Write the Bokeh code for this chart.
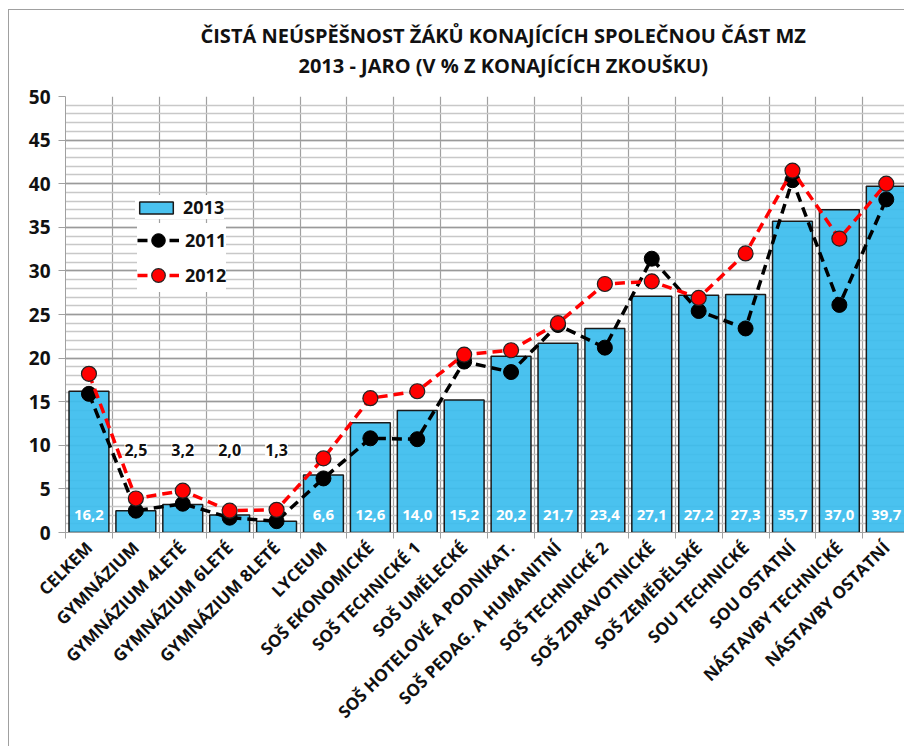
from bokeh.plotting import figure
from bokeh.models import (ColumnDataSource, FixedTicker, SingleIntervalTicker, Legend,
                          LegendItem, Title, LabelSet, Range1d)
from bokeh.embed import file_html
from bokeh.resources import INLINE
from bokeh.core.properties import value

categories = ["CELKEM", "GYMNÁZIUM", "GYMNÁZIUM 4LETÉ", "GYMNÁZIUM 6LETÉ", "GYMNÁZIUM 8LETÉ",
              "LYCEUM", "SOŠ EKONOMICKÉ", "SOŠ TECHNICKÉ 1", "SOŠ UMĚLECKÉ",
              "SOŠ HOTELOVÉ A PODNIKAT.", "SOŠ PEDAG. A HUMANITNÍ", "SOŠ TECHNICKÉ 2",
              "SOŠ ZDRAVOTNICKÉ", "SOŠ ZEMĚDĚLSKÉ", "SOU TECHNICKÉ", "SOU OSTATNÍ",
              "NÁSTAVBY TECHNICKÉ", "NÁSTAVBY OSTATNÍ"]
v2013 = [16.2, 2.5, 3.2, 2.0, 1.3, 6.6, 12.6, 14.0, 15.2, 20.2, 21.7, 23.4, 27.1, 27.2, 27.3, 35.7, 37.0, 39.7]
v2011 = [15.9, 2.5, 3.3, 1.7, 1.3, 6.2, 10.8, 10.7, 19.6, 18.4, 23.8, 21.2, 31.4, 25.4, 23.4, 40.4, 26.1, 38.2]
v2012 = [18.2, 3.9, 4.8, 2.5, 2.6, 8.5, 15.4, 16.2, 20.4, 20.9, 24.0, 28.5, 28.8, 26.9, 32.0, 41.5, 33.7, 40.0]
title_line1 = "ČISTÁ NEÚSPĚŠNOST ŽÁKŮ KONAJÍCÍCH SPOLEČNOU ČÁST MZ"
title_line2 = "2013 - JARO (V % Z KONAJÍCÍCH ZKOUŠKU)"

FONT = "Open Sans"
xs = list(range(len(categories)))
fmt = [f"{v:.1f}".replace(".", ",") for v in v2013]
inside = [v >= 5 for v in v2013]
src = ColumnDataSource(dict(x=xs, y13=v2013, y11=v2011, y12=v2012, lab=fmt))
src_in = ColumnDataSource(dict(x=[x for x, i in zip(xs, inside) if i],
                               y=[0.0 for i in inside if i],
                               lab=[l for l, i in zip(fmt, inside) if i]))
src_out = ColumnDataSource(dict(x=[x for x, i in zip(xs, inside) if not i],
                                y=[9.5 for i in inside if not i],
                                lab=[l for l, i in zip(fmt, inside) if not i]))

p = figure(width=896, height=737, output_backend="svg", toolbar_location=None,
           x_range=Range1d(-0.5, 17.41), y_range=Range1d(0, 50),
           min_border_left=56, min_border_right=0, min_border_top=86, min_border_bottom=215)
p.outline_line_color = None
p.background_fill_color = "white"
p.border_fill_color = "white"
p.styles = {"margin-left": "8px", "margin-top": "9px",
            "border-left": "1px solid #a0a0a0", "border-top": "1px solid #a0a0a0"}

# titles
t2 = Title(text=title_line2, align="left", offset=233, vertical_align="middle",
           text_font=FONT, text_font_size="20px", text_font_style="bold", text_color="#111111",
           standoff=33)
t1 = Title(text=title_line1, align="left", offset=135,
           text_font=FONT, text_font_size="20px", text_font_style="bold", text_color="#111111",
           standoff=-28)
p.add_layout(t2, "above")
p.add_layout(t1, "above")

# grids
p.ygrid.ticker = SingleIntervalTicker(interval=5, num_minor_ticks=5)
p.ygrid.grid_line_color = "#9a9a9a"
p.ygrid.grid_line_width = 1.5
p.ygrid.minor_grid_line_color = "#c8c8c8"
p.ygrid.minor_grid_line_width = 1.5
p.xgrid.ticker = FixedTicker(ticks=[i + 0.5 for i in range(-1, 18)])
p.xgrid.grid_line_color = "#a0a0a0"
p.xgrid.grid_line_width = 1.2

# axes
p.yaxis.ticker = SingleIntervalTicker(interval=5, num_minor_ticks=0)
p.yaxis.axis_line_color = "#a0a0a0"
p.yaxis.major_tick_line_color = "#a0a0a0"
p.yaxis.major_tick_out = 7
p.yaxis.major_tick_in = 0
p.yaxis.minor_tick_line_color = None
p.yaxis.major_label_text_font = FONT
p.yaxis.major_label_text_font_size = "19px"
p.yaxis.major_label_text_font_style = "bold"
p.yaxis.major_label_text_color = "#111111"
p.yaxis.major_label_standoff = 8

p.xaxis.ticker = FixedTicker(ticks=xs, minor_ticks=[i + 0.5 for i in range(-1, 18)])
p.xaxis.major_label_overrides = {i: c for i, c in enumerate(categories)}
p.xaxis.major_label_orientation = 0.785398
p.xaxis.major_tick_out = 0
p.xaxis.major_tick_in = 0
p.xaxis.minor_tick_out = 6
p.xaxis.minor_tick_in = 0
p.xaxis.minor_tick_line_color = "#a0a0a0"
p.xaxis.axis_line_color = "#a0a0a0"
p.xaxis.major_label_text_font = FONT
p.xaxis.major_label_text_font_size = "17px"
p.xaxis.major_label_text_font_style = "bold"
p.xaxis.major_label_text_color = "#111111"
p.xaxis.major_label_standoff = 6

bars = p.vbar(x="x", top="y13", width=0.85, source=src, fill_color="#3cbdee", fill_alpha=0.93,
              line_color="#1a1a1a", line_width=1.5)
l11 = p.line("x", "y11", source=src, line_color="black", line_width=3.5, line_dash="10 6")
m11 = p.scatter("x", "y11", source=src, size=15, fill_color="black", line_color="black")
l12 = p.line("x", "y12", source=src, line_color="#ff0000", line_width=3.5, line_dash="10 6")
m12 = p.scatter("x", "y12", source=src, size=15, fill_color="#ff0000", line_color="#222222",
                line_width=1.2)

p.add_layout(LabelSet(x="x", y="y", text="lab", source=src_in, text_align="center",
                      text_baseline="bottom", y_offset=13, text_color="white",
                      text_font=value(FONT), text_font_size="15px", text_font_style="bold"))
p.add_layout(LabelSet(x="x", y="y", text="lab", source=src_out, text_align="center",
                      text_baseline="middle", text_color="#111111",
                      background_fill_color="white", background_fill_alpha=1.0,
                      text_font=value(FONT), text_font_size="16px", text_font_style="bold"))


def style_legend(lg):
    lg.border_line_color = None
    lg.background_fill_color = "white"
    lg.background_fill_alpha = 1.0
    lg.label_text_font = FONT
    lg.label_text_font_size = "18px"
    lg.label_text_font_style = "bold"
    lg.label_text_color = "#111111"
    lg.glyph_width = 42
    lg.label_standoff = 6
    lg.margin = 0


leg_a = Legend(items=[LegendItem(label="2013", renderers=[bars])], location=(70, 313))
style_legend(leg_a)
leg_a.glyph_height = 15
leg_a.padding = 11
leg_a.spacing = 0

leg_b = Legend(items=[LegendItem(label="2011", renderers=[l11, m11]),
                      LegendItem(label="2012", renderers=[l12, m12])],
               location=(72, 240))
style_legend(leg_b)
leg_b.glyph_height = 34
leg_b.padding = 9
leg_b.spacing = 1
p.add_layout(leg_a, "center")
p.add_layout(leg_b, "center")

open("out.html", "w").write(file_html(p, INLINE))
